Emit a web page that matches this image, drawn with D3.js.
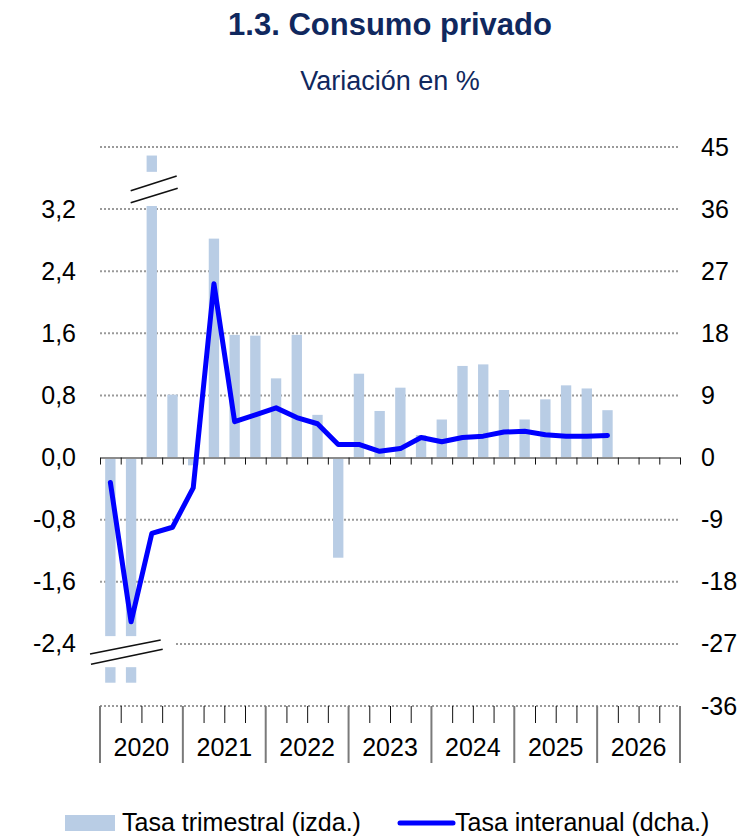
<!DOCTYPE html>
<html>
<head>
<meta charset="utf-8">
<script src="https://cdn.jsdelivr.net/npm/d3@7"></script>
<style>
  body { margin: 0; background: #fff; }
  svg { font-family: "Liberation Sans", Arial, sans-serif; }
</style>
</head>
<body>
<div id="chart"></div>
<script>
// data
let years = ["2020", "2021", "2022", "2023", "2024", "2025", "2026"]
let quarters = years.flatMap(y => ["T1", "T2", "T3", "T4"].map(q => y + q))

// quarterly rate (left axis), 2020T1..2026T1
let tasaTrimestral = [-6.1, -19.4, 20.6, 0.81, -0.1, 2.82, 1.58, 1.57, 1.02, 1.58, 0.55, -1.29,
  1.08, 0.60, 0.90, 0.29, 0.49, 1.18, 1.20, 0.87, 0.49, 0.75, 0.93, 0.89, 0.61]
// year-on-year rate (right axis)
let tasaInteranual = [-3.6, -23.8, -11.0, -10.1, -4.4, 25.2, 5.2, 6.2, 7.2, 5.8, 4.9, 1.9,
  1.9, 0.9, 1.3, 2.9, 2.3, 2.9, 3.1, 3.7, 3.8, 3.3, 3.1, 3.1, 3.2]

let leftTicks = [-2.4, -1.6, -0.8, 0, 0.8, 1.6, 2.4, 3.2]
let rightTicks = [-36, -27, -18, -9, 0, 9, 18, 27, 36, 45]
let gridValues = [-3.2, -2.4, -1.6, -0.8, 0.8, 1.6, 2.4, 3.2, 4.0]

// broken axis: bars are cut at these values, with a gap
let capTop = 3.89, capBottom = -2.9
let gapTop = [3.24, 3.68], gapBottom = [-2.70, -2.30]

let W = 748, H = 840
let L = 100, R = 680, T = 147, B = 706
let navy = "#10285e"

let es = d3.formatLocale({decimal: ",", thousands: ".", grouping: [3], currency: ["", " €"], minus: "-"})

let svg = d3.select("#chart").append("svg")
  .attr("width", W)
  .attr("height", H)

let x = d3.scaleBand().domain(quarters).range([L, R]).paddingInner(0.5).paddingOuter(0.25)
let q = d3.scaleLinear().domain([0, quarters.length]).range([L, R])
let yL = d3.scaleLinear().domain([-3.2, 4.0]).range([B, T])
let yR = d3.scaleLinear().domain([-36, 45]).range([B, T])

// titles
svg.append("text")
  .attr("x", (L + R) / 2).attr("y", 35)
  .attr("text-anchor", "middle")
  .attr("font-size", 31).attr("font-weight", "bold")
  .attr("fill", navy)
  .text("1.3. Consumo privado")
svg.append("text")
  .attr("x", (L + R) / 2).attr("y", 90)
  .attr("text-anchor", "middle")
  .attr("font-size", 27)
  .attr("fill", navy)
  .text("Variación en %")

// dotted grid
svg.append("g").selectAll("line")
  .data(gridValues)
  .enter()
  .append("line")
  .attr("x1", L).attr("x2", R)
  .attr("y1", d => yL(d)).attr("y2", d => yL(d))
  .attr("stroke", "#9a9a9a")
  .attr("stroke-width", 2)
  .attr("stroke-dasharray", "2,2")

// bars
let clamp = v => Math.max(capBottom, Math.min(capTop, v))
svg.append("g").selectAll("rect")
  .data(tasaTrimestral)
  .enter()
  .append("rect")
  .attr("x", (d, i) => x(quarters[i]))
  .attr("width", x.bandwidth())
  .attr("y", d => yL(Math.max(0, clamp(d))))
  .attr("height", d => Math.abs(yL(clamp(d)) - yL(0)))
  .attr("fill", "#b9cde5")

// axis break gaps
svg.append("rect")
  .attr("x", 128).attr("width", 50)
  .attr("y", yL(gapTop[1])).attr("height", yL(gapTop[0]) - yL(gapTop[1]))
  .attr("fill", "#fff")
svg.append("rect")
  .attr("x", L).attr("width", 75)
  .attr("y", yL(gapBottom[1])).attr("height", yL(gapBottom[0]) - yL(gapBottom[1]))
  .attr("fill", "#fff")

let breaks = [
  [130.7, 190.7, 176.7, 176], [130.7, 202.7, 177.7, 188.3],
  [90, 654, 160.7, 640], [91, 664.3, 162.7, 649.3]
]
svg.append("g").selectAll("line")
  .data(breaks)
  .enter()
  .append("line")
  .attr("x1", d => d[0]).attr("y1", d => d[1])
  .attr("x2", d => d[2]).attr("y2", d => d[3])
  .attr("stroke", "#111")
  .attr("stroke-width", 1.6)

// zero axis with quarter ticks
let zeroAxis = svg.append("g")
  .attr("transform", `translate(0,${yL(0)})`)
  .call(d3.axisBottom(q).tickValues(d3.range(quarters.length + 1)).tickSize(7).tickFormat("").tickSizeOuter(0))
zeroAxis.select(".domain").attr("stroke", "#8c8c8c").attr("stroke-width", 2)
zeroAxis.selectAll(".tick line").attr("stroke", "#111")

// bottom axis: quarter ticks and year separators
let bottomAxis = svg.append("g")
  .attr("transform", `translate(0,${B})`)
  .call(d3.axisBottom(q).tickValues(d3.range(quarters.length + 1).filter(i => i % 4 != 0)).tickSize(17).tickFormat("").tickSizeOuter(0))
bottomAxis.select(".domain").remove()
bottomAxis.selectAll(".tick line").attr("stroke", "#111")

svg.append("g").selectAll("line")
  .data(d3.range(years.length + 1))
  .enter()
  .append("line")
  .attr("x1", i => q(i * 4)).attr("x2", i => q(i * 4))
  .attr("y1", B).attr("y2", B + 57)
  .attr("stroke", "#7a7a7a")
  .attr("stroke-width", 2)

let yearScale = d3.scaleBand().domain(years).range([L, R])
let yearAxis = svg.append("g")
  .attr("transform", `translate(0,${B})`)
  .call(d3.axisBottom(yearScale).tickSize(0).tickPadding(32))
yearAxis.select(".domain").remove()
yearAxis.selectAll("text").attr("font-size", 25).attr("font-family", null).attr("fill", "#000")

// left and right value axes
let leftAxis = svg.append("g")
  .attr("transform", `translate(${L},0)`)
  .call(d3.axisLeft(yL).tickValues(leftTicks).tickSize(0).tickPadding(24).tickFormat(es.format(".1f")))
leftAxis.select(".domain").remove()
leftAxis.selectAll("text").attr("font-size", 25).attr("font-family", null).attr("fill", "#000")

let rightAxis = svg.append("g")
  .attr("transform", `translate(${R},0)`)
  .call(d3.axisRight(yR).tickValues(rightTicks).tickSize(0).tickPadding(21).tickFormat(es.format("d")))
rightAxis.select(".domain").remove()
rightAxis.selectAll("text").attr("font-size", 25).attr("font-family", null).attr("fill", "#000")

// year-on-year line
let line = d3.line()
  .x((d, i) => x(quarters[i]) + x.bandwidth() / 2)
  .y(d => yR(d))
svg.append("path")
  .datum(tasaInteranual)
  .attr("d", line)
  .attr("fill", "none")
  .attr("stroke", "#0000ff")
  .attr("stroke-width", 5)
  .attr("stroke-linejoin", "round")
  .attr("stroke-linecap", "round")

// legend
let lg = svg.append("g")
lg.append("rect")
  .attr("x", 65).attr("y", 815).attr("width", 50).attr("height", 16)
  .attr("fill", "#b9cde5")
lg.append("text")
  .attr("x", 122).attr("y", 831)
  .attr("font-size", 25)
  .text("Tasa trimestral (izda.)")
lg.append("line")
  .attr("x1", 400).attr("x2", 453).attr("y1", 823).attr("y2", 823)
  .attr("stroke", "#0000ff").attr("stroke-width", 5).attr("stroke-linecap", "round")
lg.append("text")
  .attr("x", 455).attr("y", 831)
  .attr("font-size", 25)
  .text("Tasa interanual (dcha.)")
</script>
</body>
</html>
